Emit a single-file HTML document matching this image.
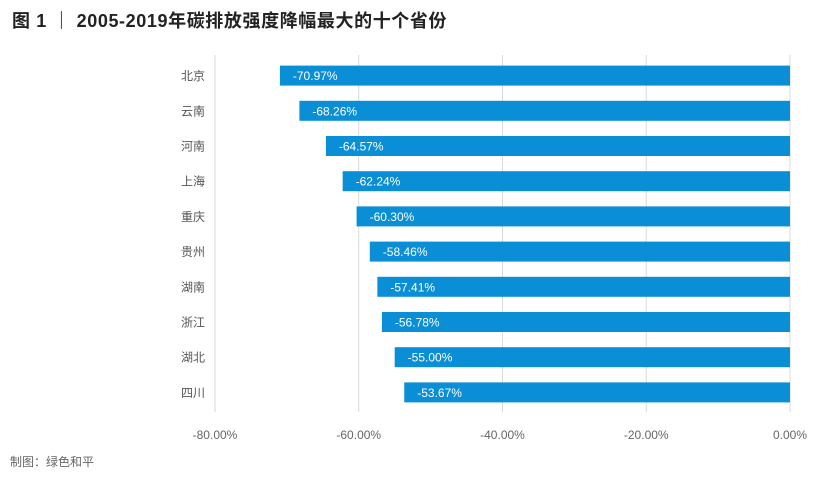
<!DOCTYPE html>
<html><head><meta charset="utf-8"><style>
html,body{margin:0;padding:0;background:#fff;}
body{width:816px;height:473px;overflow:hidden;font-family:"Liberation Sans","Noto Sans CJK SC",sans-serif;}
</style></head><body>
<svg id="c" width="816" height="473" xmlns="http://www.w3.org/2000/svg">
<text x="12" y="27" font-size="18" font-weight="bold" fill="#222" letter-spacing="0.6" font-family="Liberation Sans,Noto Sans CJK SC,sans-serif">图 1 ｜ 2005-2019年碳排放强度降幅最大的十个省份</text>
<text x="10" y="466" font-size="12" fill="#666" font-family="Liberation Sans,Noto Sans CJK SC,sans-serif">制图：绿色和平</text>
<g id="grid"></g><g id="bars"></g><g id="labels"></g>
</svg>
<script>
const categories=["北京","云南","河南","上海","重庆","贵州","湖南","浙江","湖北","四川"];
const values=[-70.97,-68.26,-64.57,-62.24,-60.30,-58.46,-57.41,-56.78,-55.00,-53.67];
const ticks=[-80,-60,-40,-20,0];
const ns="http://www.w3.org/2000/svg";
const x0=215,x1=790,vmin=-80,vmax=0;
const xs=v=>x0+(v-vmin)/(vmax-vmin)*(x1-x0);
const yTop=58,step=35.2,bh=20;
const yc=i=>yTop+step*i+step/2;
function mk(t,a,p){const e=document.createElementNS(ns,t);for(const k in a)e.setAttribute(k,a[k]);p.appendChild(e);return e;}
const g=document.getElementById('grid'),b=document.getElementById('bars'),l=document.getElementById('labels');
ticks.forEach(t=>{
 const ln=mk('line',{x1:xs(t),x2:xs(t),y1:55,y2:412,stroke:'#d9d9d9','stroke-width':1},g);
 
 
 const tx=mk('text',{x:xs(t),y:439,'text-anchor':'middle','font-size':12,fill:'#666'},g);
 tx.textContent=t.toFixed(2)+'%';
 
 
});
categories.forEach((c,i)=>{
 const v=values[i];
 const r=mk('rect',{x:xs(v),y:yc(i)-bh/2,width:xs(0)-xs(v),height:bh,fill:'#0a8fd6'},b);
 
 
 const vt=mk('text',{x:xs(v)+13,y:yc(i)+4.5,'font-size':12,fill:'#fff'},l);
 vt.textContent=v.toFixed(2)+'%';
 
 
 const ct=mk('text',{x:205,y:yc(i)+4.5,'text-anchor':'end','font-size':12,fill:'#555'},l);
 ct.textContent=c;
 
 
});
</script>
</body></html>
